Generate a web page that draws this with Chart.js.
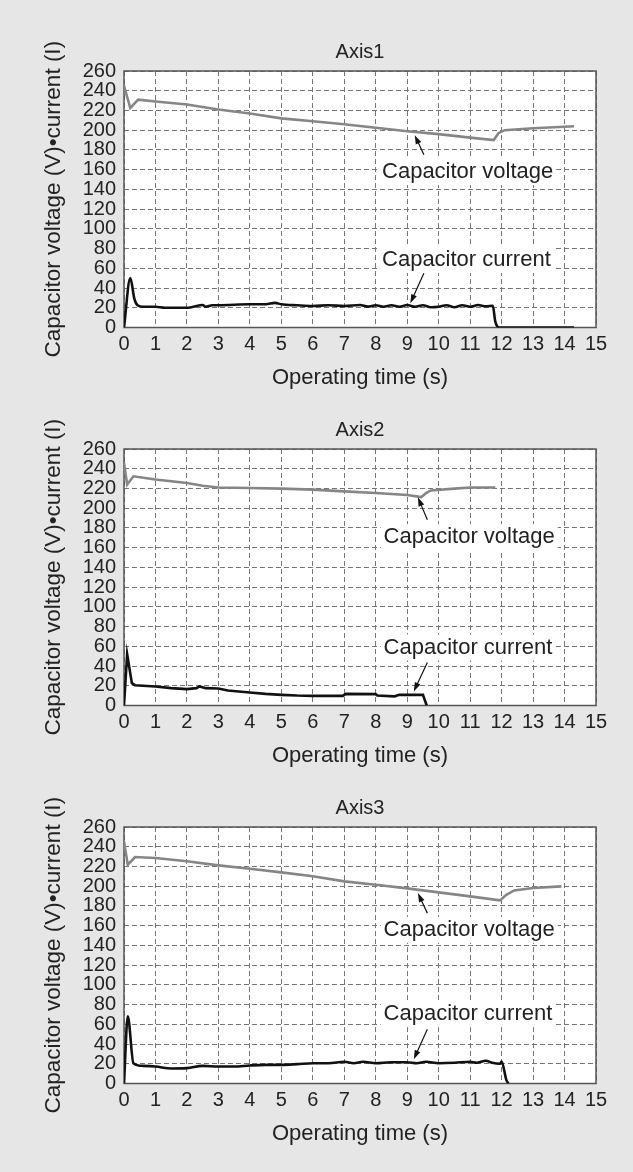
<!DOCTYPE html>
<html>
<head>
<meta charset="utf-8">
<title>Capacitor voltage and current</title>
<script src="https://cdn.jsdelivr.net/npm/chart.js@4.4.1/dist/chart.umd.min.js"></script>
<style>
  html, body { margin: 0; padding: 0; background: #e6e6e6; }
  body { width: 633px; height: 1172px; position: relative; overflow: hidden; }
  .panel { position: absolute; left: 0; width: 633px; height: 378px; }
</style>
</head>
<body>
<div class="panel" style="top:30px"><canvas id="axis1"></canvas></div>
<div class="panel" style="top:408px"><canvas id="axis2"></canvas></div>
<div class="panel" style="top:786px"><canvas id="axis3"></canvas></div>
<script>
// tick labels
const xTicks = [0, 1, 2, 3, 4, 5, 6, 7, 8, 9, 10, 11, 12, 13, 14, 15];
const yTicks = [0, 20, 40, 60, 80, 100, 120, 140, 160, 180, 200, 220, 240, 260];
const panelTitles = ["Axis1", "Axis2", "Axis3"];

// Axis1
const voltTime1  = [0, 0.2, 0.45, 1, 2, 3, 4, 5, 6, 7, 8, 9, 10, 11, 11.75, 11.9, 12.1, 13, 14, 14.3];
const voltValue1 = [245, 222.5, 231, 229, 226, 221, 217, 212, 209, 206, 202.5, 199, 196, 192.5, 190, 197, 200, 202, 203.5, 204];
const currTime1  = [0, 0.2, 0.33, 0.43, 0.6, 1, 1.3, 2, 2.2, 2.5, 2.6, 2.8, 3, 4, 4.5, 4.8, 5, 5.5, 6, 6.5, 7, 7.5, 7.75,
                    8, 8.25, 8.5, 8.75, 9, 9.25, 9.5, 9.75, 10, 10.25, 10.5, 10.75, 11, 11.25, 11.5, 11.72, 11.8, 11.93, 14.3];
const currValue1 = [0, 50, 29, 22.5, 21, 21, 20, 20, 21, 22.8, 21, 22.5, 22.5, 23.5, 23.5, 25, 23.5, 22.5, 21.8, 22.5, 21.8, 22.8, 21.2,
                    22.5, 21, 22.5, 21, 22.8, 21, 22.5, 20.5, 21, 22.5, 20.5, 22.5, 21, 22.8, 21.5, 22, 6, 0, 0];

// Axis2
const voltTime2  = [0, 0.1, 0.3, 1, 2, 2.5, 3, 4, 5, 6, 7, 8, 9, 9.45, 9.6, 9.75, 10.5, 11, 11.8];
const voltValue2 = [245.8, 224, 232.3, 229, 225.5, 222.8, 221, 220.4, 219.8, 218.8, 217, 215.4, 213.4, 211.3, 215.4, 218, 219.8, 221, 221];
const currTime2  = [0, 0.1, 0.25, 0.35, 1, 1.5, 2, 2.3, 2.4, 2.6, 3, 3.3, 4, 4.5, 5, 5.5, 6, 6.95, 7.05, 8, 8.05, 8.6, 8.75, 9.5, 9.62];
const currValue2 = [0, 52, 22.6, 20.6, 19.3, 17.6, 16.6, 17.6, 19.3, 17.6, 17.2, 15.2, 13.2, 11.8, 10.8, 10.1, 9.8, 9.8, 11.8, 11.5, 10.1, 9.3, 10.8, 10.8, 0];

// Axis3
const voltTime3  = [0, 0.12, 0.35, 1, 2, 3, 4, 5, 6, 7, 8, 9, 10, 11, 11.95, 12.15, 12.4, 13, 13.9];
const voltValue3 = [245.4, 221.8, 229.6, 228.6, 225.2, 221.1, 217.7, 214, 210, 204.9, 201.5, 197.8, 193.7, 189.7, 185.6, 191.3, 195.7, 198.1, 199.8];
const currTime3  = [0, 0.12, 0.3, 0.6, 1, 1.5, 2, 2.5, 3, 3.5, 4, 4.5, 5, 5.5, 6, 6.5, 7, 7.3, 7.6, 8, 8.5, 9, 9.3, 9.6, 10,
                    10.5, 11, 11.2, 11.5, 11.7, 11.95, 12.0, 12.15, 12.22];
const currValue3 = [0, 68, 20.6, 17.9, 17.2, 15.2, 15.6, 17.9, 17.2, 17.2, 18.3, 18.9, 18.9, 19.6, 20.6, 20.6, 22, 20.6, 22, 20.6, 21.6, 21.6, 20.6, 22, 20.6,
                    21, 22, 21, 23, 21, 20, 22.3, 3.7, 0];

const pts = (t, v) => t.map((x, i) => ({ x: x, y: v[i] }));

// callout labels with arrows, in data units
const callouts = {
  axis1: [
    { text: "Capacitor voltage", x: 8.2, y: 157.6, from: [9.53, 175], to: [9.24, 195] },
    { text: "Capacitor current", x: 8.2, y: 68.4, from: [9.53, 55], to: [9.1, 24.5] }
  ],
  axis2: [
    { text: "Capacitor voltage", x: 8.25, y: 170.7, from: [9.64, 188.3], to: [9.34, 211] },
    { text: "Capacitor current", x: 8.25, y: 58.8, from: [9.64, 43.6], to: [9.21, 14.2] }
  ],
  axis3: [
    { text: "Capacitor voltage", x: 8.25, y: 155.8, from: [9.64, 172.7], to: [9.34, 193] },
    { text: "Capacitor current", x: 8.25, y: 70.3, from: [9.64, 55.1], to: [9.21, 24.7] }
  ]
};

const fontFamily = "'Liberation Sans', Arial, Helvetica, sans-serif";
Chart.defaults.font.family = fontFamily;
Chart.defaults.color = "#222";

const plotFrame = {
  id: "plotFrame",
  beforeDraw(chart) {
    const { ctx, chartArea: a } = chart;
    ctx.save();
    ctx.fillStyle = "#ffffff";
    ctx.fillRect(a.left, a.top, a.width, a.height);
    ctx.restore();
  },
  beforeDatasetsDraw(chart) {
    const { ctx, chartArea: a } = chart;
    ctx.save();
    ctx.strokeStyle = "#555";
    ctx.lineWidth = 1.5;
    ctx.strokeRect(a.left, a.top, a.width, a.height);
    ctx.restore();
  },
  afterDatasetsDraw(chart) {
    const notes = callouts[chart.canvas.id] || [];
    const { ctx, scales: { x, y } } = chart;
    ctx.save();
    ctx.font = "22px " + fontFamily;
    ctx.textBaseline = "middle";
    notes.forEach(n => {
      const px = x.getPixelForValue(n.x), py = y.getPixelForValue(n.y);
      const w = ctx.measureText(n.text).width;
      ctx.fillStyle = "#ffffff";
      ctx.fillRect(px - 3, py - 13, w + 6, 26);
      ctx.fillStyle = "#222";
      ctx.fillText(n.text, px, py);

      const x1 = x.getPixelForValue(n.from[0]), y1 = y.getPixelForValue(n.from[1]);
      const x2 = x.getPixelForValue(n.to[0]), y2 = y.getPixelForValue(n.to[1]);
      const ang = Math.atan2(y2 - y1, x2 - x1);
      ctx.strokeStyle = "#111";
      ctx.lineWidth = 1.2;
      ctx.beginPath();
      ctx.moveTo(x1, y1);
      ctx.lineTo(x2 - 6 * Math.cos(ang), y2 - 6 * Math.sin(ang));
      ctx.stroke();
      ctx.fillStyle = "#111";
      ctx.beginPath();
      ctx.moveTo(x2, y2);
      ctx.lineTo(x2 - 9 * Math.cos(ang) + 3 * Math.sin(ang), y2 - 9 * Math.sin(ang) - 3 * Math.cos(ang));
      ctx.lineTo(x2 - 9 * Math.cos(ang) - 3 * Math.sin(ang), y2 - 9 * Math.sin(ang) + 3 * Math.cos(ang));
      ctx.closePath();
      ctx.fill();
    });
    ctx.restore();
  }
};

function makeChart(id, title, volt, curr, smoothCurrent) {
  return new Chart(document.getElementById(id), {
    type: "line",
    data: {
      datasets: [
        {
          label: "Capacitor voltage",
          data: volt,
          borderColor: "#868686",
          borderWidth: 2.6,
          pointRadius: 0,
          tension: 0
        },
        {
          label: "Capacitor current",
          data: curr,
          borderColor: "#111111",
          borderWidth: 2.6,
          pointRadius: 0,
          cubicInterpolationMode: smoothCurrent ? "monotone" : "default",
          tension: 0
        }
      ]
    },
    options: {
      responsive: true,
      maintainAspectRatio: false,
      animation: false,
      events: [],
      layout: { padding: { top: 0, left: 0, right: 37, bottom: 0 } },
      plugins: {
        legend: { display: false },
        tooltip: { enabled: false },
        title: {
          display: true,
          text: title,
          fullSize: false,
          color: "#222",
          font: { size: 20, weight: "normal" },
          padding: { top: 10, bottom: 7 }
        }
      },
      scales: {
        x: {
          type: "linear",
          min: 0,
          max: 15,
          afterBuildTicks: s => { s.ticks = xTicks.map(v => ({ value: v })); },
          afterFit: s => { s.height = 80.5; },
          ticks: { font: { size: 20 }, padding: 5, maxRotation: 0, autoSkip: false },
          grid: { color: "#777", lineWidth: 1, drawTicks: false },
          border: { display: false, dash: [5, 3] },
          title: {
            display: true,
            text: "Operating time (s)",
            font: { size: 22 },
            padding: { top: 0, bottom: 17 }
          }
        },
        y: {
          min: 0,
          max: 260,
          afterBuildTicks: s => { s.ticks = yTicks.map(v => ({ value: v })); },
          afterFit: s => { s.width = 124; },
          ticks: { font: { size: 20 }, padding: 8, autoSkip: false },
          grid: { color: "#777", lineWidth: 1, drawTicks: false },
          border: { display: false, dash: [5, 3] },
          title: {
            display: true,
            text: "Capacitor voltage (V)\u2022current (I)",
            font: { size: 22.5 },
            padding: { top: 40, bottom: 0 }
          }
        }
      }
    },
    plugins: [plotFrame]
  });
}

makeChart("axis1", panelTitles[0], pts(voltTime1, voltValue1), pts(currTime1, currValue1), true);
makeChart("axis2", panelTitles[1], pts(voltTime2, voltValue2), pts(currTime2, currValue2), false);
makeChart("axis3", panelTitles[2], pts(voltTime3, voltValue3), pts(currTime3, currValue3), true);
</script>
</body>
</html>
